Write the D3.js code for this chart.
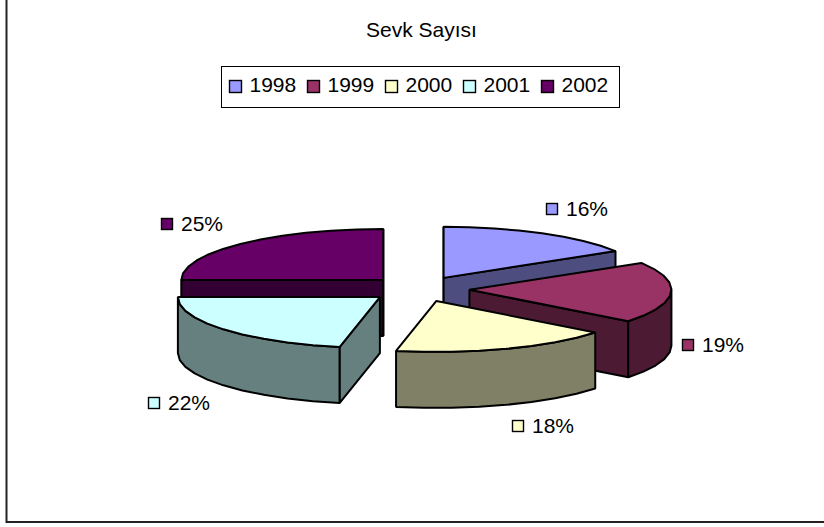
<!DOCTYPE html>
<html><head><meta charset="utf-8">
<script src="https://cdn.jsdelivr.net/npm/d3@7"></script>
<style>html,body{margin:0;padding:0;background:#fff}svg{display:block}text{font-family:"Liberation Sans",Arial,sans-serif;fill:#000}</style>
</head><body><svg id="c" width="824" height="527"></svg>
<script>
const chartTitle = "Sevk Sayısı";
const categories = ["1998","1999","2000","2001","2002"];
const shares = [16.2,19.4,17.6,21.8,25];
const percentLabels = ["16%","19%","18%","22%","25%"];
const topColors = ["#9999FF","#993366","#FFFFCC","#CCFFFF","#660066"];
const wallColors = ["#4D4D80","#4D1A33","#808066","#668080","#330033"];

const W=824,H=527;
const svg=d3.select("#c");
const STROKE="#000";
// frame
svg.append("path").attr("d",`M6.5 0V522H${W}`).attr("fill","none").attr("stroke","#222").attr("stroke-width",2);

// title
svg.append("text").attr("x",421.5).attr("y",37).attr("text-anchor","middle").attr("font-size",21).text(chartTitle);

// legend
const legend=svg.append("g");
legend.append("rect").attr("x",221.5).attr("y",66.5).attr("width",398).attr("height",41).attr("fill","#fff").attr("stroke","#000").attr("stroke-width",1);
const legendX=d3.scalePoint().domain(categories).range([229,541]);
categories.forEach((c,i)=>{
  const x=legendX(c);
  legend.append("rect").attr("x",x+.5).attr("y",80.5).attr("width",12).attr("height",12).attr("fill",topColors[i]).attr("stroke","#000").attr("stroke-width",1.4);
  legend.append("text").attr("x",x+20.5).attr("y",92).attr("font-size",21).text(c);
});

// projection: unit ellipse -> screen
const rx=202, ry=51, depth=56, explode=.25;
const sx=d3.scaleLinear().domain([-1,1]).range([419-rx,419+rx]);
const sy=d3.scaleLinear().domain([-1,1]).range([289-ry,289+ry]);

const arcs=d3.pie().sort(null).value(d=>d)(shares);
const slices=arcs.map((a,i)=>{
  const mid=(a.startAngle+a.endAngle)/2;
  return {i,a0:a.startAngle,a1:a.endAngle,ox:explode*Math.sin(mid),oy:-explode*Math.cos(mid)};
});
const px=(s,t,r=1)=>sx(s.ox+r*Math.sin(t));
const py=(s,t,r=1)=>sy(s.oy-r*Math.cos(t));
const line=d3.line();
function arcPts(s,a0,a1,dz){
  const n=Math.max(2,Math.ceil((a1-a0)/.14)),pts=[];
  for(let k=0;k<=n;k++){const t=a0+(a1-a0)*k/n;pts.push([px(s,t),py(s,t)+dz]);}
  return pts;
}
const g=svg.append("g").attr("stroke",STROKE).attr("stroke-width",2).attr("stroke-linejoin","bevel");
function drawSlice(s){
  const wall=wallColors[s.i], top=topColors[s.i];
  const apex=[px(s,0,0),py(s,0,0)];
  // radial walls that face the viewer
  [[s.a0,-1],[s.a1,1]].forEach(([t,sgn])=>{
    if(Math.cos(t+sgn*Math.PI/2)<=1e-6){
      const e=[px(s,t),py(s,t)];
      g.append("path").attr("fill",wall).attr("d",line([apex,e,[e[0],e[1]+depth],[apex[0],apex[1]+depth]])+"Z");
    }
  });
  // outer wall, front half
  const f0=Math.max(s.a0,Math.PI/2), f1=Math.min(s.a1,3*Math.PI/2);
  if(f1>f0){
    const upper=arcPts(s,f0,f1,0), lower=arcPts(s,f0,f1,depth).reverse();
    g.append("path").attr("fill",wall).attr("d",line(upper.concat(lower))+"Z");
  }
  g.append("path").attr("fill",top).attr("d",line([apex].concat(arcPts(s,s.a0,s.a1,0)))+"Z");
}
[0,1,2,4,3].forEach(i=>drawSlice(slices[i]));

// percent labels
const labelAnchors=[[552,209],[688,345],[518,426],[154,403],[167,224]];
percentLabels.forEach((t,i)=>{
  const [x,y]=labelAnchors[i];
  svg.append("rect").attr("x",x-5.5).attr("y",y-5.5).attr("width",11).attr("height",11).attr("fill",topColors[i]).attr("stroke","#000").attr("stroke-width",1.4);
  svg.append("text").attr("x",x+14).attr("y",y+7).attr("font-size",21).text(t);
});
</script></body></html>
